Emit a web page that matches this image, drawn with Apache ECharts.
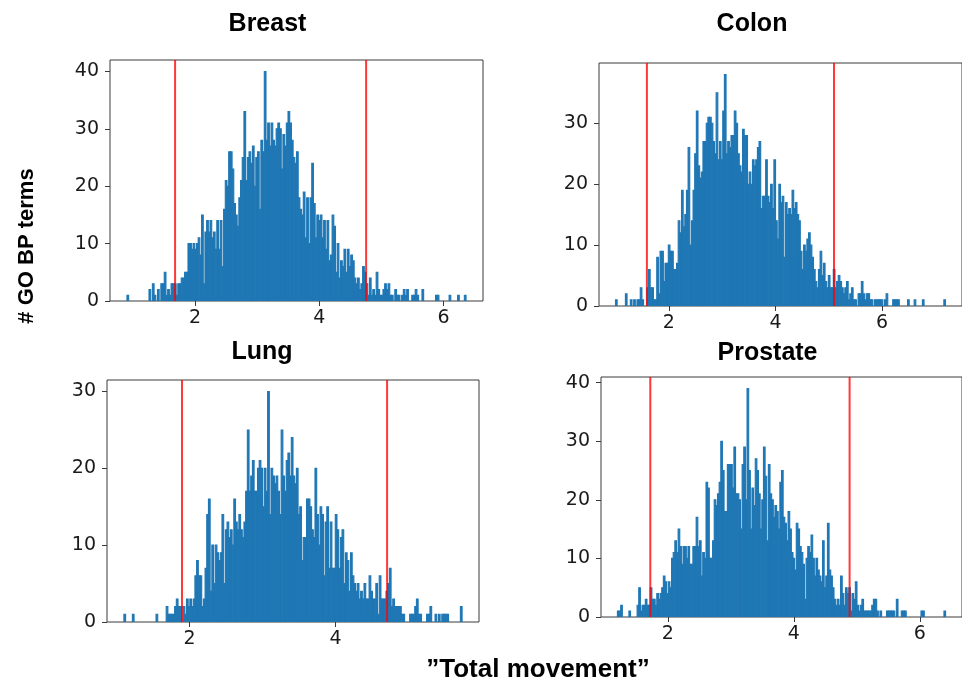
<!DOCTYPE html>
<html>
<head>
<meta charset="utf-8">
<title>Total movement of GO BP terms</title>
<script src="https://cdn.jsdelivr.net/npm/echarts@6/dist/echarts.min.js"></script>
<style>
  html, body { margin: 0; padding: 0; background: #ffffff; }
  #chart { width: 962px; height: 683px; }
</style>
</head>
<body>
<div id="chart"></div>
<script>
// Histogram counts, 200 equal-width bins per tissue
const breastCounts = [
  1,0,0,0,0,0,0,0,0,0,  0,0,0,2,0,3,1,0,2,0,  3,3,5,1,2,1,3,3,3,1,  3,3,4,4,5,5,10,10,9,10,
  9,10,11,8,15,3,12,14,12,14,  11,12,9,14,9,14,6,16,21,20,  26,26,23,17,15,13,18,21,25,33,
  21,25,26,24,27,20,25,26,16,28,  26,40,28,31,27,31,28,27,30,31,  30,23,29,27,31,33,31,28,25,24,
  26,18,16,15,19,11,18,10,18,24,  17,11,15,14,15,11,14,9,14,7,  8,15,13,5,10,4,7,6,9,5,
  9,6,8,7,4,3,4,2,3,6,  5,3,1,4,1,2,1,5,2,1,  1,2,3,2,3,1,1,0,2,1,  1,0,1,2,1,2,0,0,1,1,
  2,1,0,0,2,0,0,0,0,0,  0,0,1,1,0,0,0,0,0,0,  1,0,0,0,0,1,0,0,0,1
];
const colonCounts = [
  1,0,0,0,0,0,2,0,0,1,  0,1,0,1,1,3,1,0,0,3,  6,3,3,1,1,8,2,9,9,4,  7,7,10,9,9,6,6,7,14,12,
  19,13,15,19,26,10,14,19,25,32,  23,21,22,27,27,30,31,31,30,27,  25,35,24,27,24,32,38,25,27,26,
  28,28,32,30,25,23,22,29,28,28,  20,22,20,24,23,24,26,27,16,18,  18,24,18,17,20,16,24,14,11,20,
  17,18,8,17,15,16,15,19,16,17,  15,14,9,6,10,9,11,12,10,8,  6,4,3,6,9,5,7,4,3,5,
  3,3,6,3,4,5,4,3,2,3,  4,1,2,3,1,1,0,2,2,4,  2,1,2,2,1,1,0,1,1,1,  1,1,0,1,2,0,0,0,1,1,
  1,1,0,0,0,0,0,1,0,0,  0,1,0,0,0,0,1,0,0,0,  0,0,0,0,0,0,0,0,0,1
];
const lungCounts = [
  1,0,0,0,0,1,0,0,0,0,  0,0,0,0,0,0,0,0,0,1,  0,0,0,0,0,2,1,1,1,1,  2,3,2,2,0,2,1,3,2,3,
  2,3,6,8,6,6,2,3,7,14,  16,4,10,5,10,9,8,9,14,5,  12,13,11,12,10,16,13,12,14,12,
  11,13,17,25,17,19,21,17,17,20,  21,20,15,20,17,30,14,20,19,18,  19,17,14,25,19,17,21,22,19,24,
  19,18,20,14,15,8,11,11,16,16,  15,12,11,20,14,10,15,14,6,13,  15,7,13,7,7,14,12,7,11,12,
  5,9,8,4,9,6,5,4,5,3,  4,3,5,3,3,6,4,3,3,5,  1,6,3,3,3,4,5,7,2,3,  2,2,2,2,1,1,0,0,0,1,
  1,1,2,3,1,1,0,0,0,1,  1,2,0,0,1,0,1,0,1,1,  1,1,0,0,0,0,0,0,0,2
];
const prostateCounts = [
  1,1,2,0,0,0,0,1,0,0,  0,0,2,5,1,2,2,3,2,2,  5,3,3,2,4,3,4,5,7,6,  4,6,5,10,11,13,11,15,12,9,
  12,12,10,12,9,9,12,12,17,12,  13,7,11,10,23,22,10,10,13,20,  19,21,23,30,25,18,18,26,26,26,
  22,29,21,21,20,15,26,29,20,39,  25,15,22,19,27,25,21,15,20,29,  24,13,26,21,20,17,19,18,15,23,
  25,17,16,13,18,15,11,10,8,16,  15,12,11,9,3,10,12,11,14,10,  7,10,8,7,6,13,5,7,16,8,
  7,5,3,2,3,2,7,4,2,5,  4,5,1,4,3,6,2,1,2,3,  1,1,1,1,1,2,3,3,1,0,  1,0,0,0,1,1,1,1,1,0,
  3,0,0,1,1,1,0,0,0,0,  0,0,0,0,0,1,1,0,0,0,  0,0,0,0,0,0,0,0,0,1
];

// First and last bin edge of each histogram
const breastRange = [0.902, 6.362];
const colonRange = [1.0, 7.19];
const lungRange = [1.10, 5.736];
const prostateRange = [1.2, 6.41];

// Cut-off positions marked with red vertical lines
const breastCutoffs = [1.677, 4.753];
const colonCutoffs = [1.589, 5.099];
const lungCutoffs = [1.896, 4.708];
const prostateCutoffs = [1.722, 4.886];

// Tick labels
const xTicks = [2, 4, 6];
const yTicks = [0, 10, 20, 30, 40];

const panelTitles = ['Breast', 'Colon', 'Lung', 'Prostate'];

const panels = [
  { counts: breastCounts, range: breastRange, cutoffs: breastCutoffs,
    grid: { left: 110, top: 60, width: 373, height: 241 }, title: [267.5, 24] },
  { counts: colonCounts, range: colonRange, cutoffs: colonCutoffs,
    grid: { left: 599, top: 63, width: 370, height: 243 }, title: [752, 24] },
  { counts: lungCounts, range: lungRange, cutoffs: lungCutoffs,
    grid: { left: 107, top: 380, width: 372, height: 242 }, title: [262, 352] },
  { counts: prostateCounts, range: prostateRange, cutoffs: prostateCutoffs,
    grid: { left: 601, top: 377, width: 371, height: 240 }, title: [767.5, 353] }
];

const tickFont = '"DejaVu Sans", sans-serif';
const titleFont = '"Liberation Sans", Arial, sans-serif';
const spineColor = '#3a3a3a';
const barColor = '#1f77b4';

const grids = [], xAxes = [], yAxes = [], series = [], graphics = [];

panels.forEach((p, i) => {
  const [lo, hi] = p.range;
  const n = p.counts.length;
  const w = (hi - lo) / n;
  const span = hi - lo;
  const xMin = lo - 0.05 * span;
  const xMax = hi + 0.05 * span;
  const yMax = 1.05 * Math.max(...p.counts);

  grids.push(Object.assign({ show: true, borderColor: spineColor, borderWidth: 1,
    backgroundColor: 'transparent', containLabel: false }, p.grid));

  xAxes.push({
    type: 'value', gridIndex: i, min: xMin, max: xMax,
    axisLine: { show: false },
    splitLine: { show: false },
    axisTick: { show: true, length: 5, lineStyle: { color: spineColor, width: 1 },
      customValues: xTicks.filter(v => v >= xMin && v <= xMax) },
    axisLabel: { show: true, fontFamily: tickFont, fontSize: 19, color: '#1a1a1a', margin: 8,
      customValues: xTicks.filter(v => v >= xMin && v <= xMax) }
  });
  yAxes.push({
    type: 'value', gridIndex: i, min: 0, max: yMax,
    axisLine: { show: false },
    splitLine: { show: false },
    axisTick: { show: true, length: 5, lineStyle: { color: spineColor, width: 1 },
      customValues: yTicks.filter(v => v <= yMax) },
    axisLabel: { show: true, fontFamily: tickFont, fontSize: 19, color: '#1a1a1a', margin: 11,
      customValues: yTicks.filter(v => v <= yMax) }
  });

  const bins = [];
  p.counts.forEach((c, k) => {
    if (c > 0) bins.push([lo + k * w, lo + (k + 1) * w, c]);
  });

  series.push({
    type: 'custom', xAxisIndex: i, yAxisIndex: i, clip: true, silent: true,
    encode: { x: [0, 1], y: 2 },
    data: bins,
    renderItem: (params, api) => {
      const top = api.coord([api.value(0), api.value(2)]);
      const base = api.coord([api.value(1), 0]);
      return {
        type: 'rect',
        shape: { x: top[0], y: top[1], width: base[0] - top[0], height: base[1] - top[1] },
        style: { fill: barColor, stroke: barColor, lineWidth: 1.1 }
      };
    }
  });

  series.push({
    type: 'custom', xAxisIndex: i, yAxisIndex: i, clip: true, silent: true, z: 5,
    encode: { x: 0 },
    data: p.cutoffs.map(v => [v]),
    renderItem: (params, api) => {
      const cs = params.coordSys;
      const x = api.coord([api.value(0), 0])[0];
      return {
        type: 'line',
        shape: { x1: x, y1: cs.y, x2: x, y2: cs.y + cs.height },
        style: { stroke: 'rgba(255,0,0,0.78)', lineWidth: 2 }
      };
    }
  });

  graphics.push({
    type: 'text', x: p.title[0], y: p.title[1],
    style: { text: panelTitles[i], font: 'bold 25px ' + titleFont, fill: '#000',
      textAlign: 'center', textVerticalAlign: 'middle' }
  });
});

graphics.push({
  type: 'text', x: 27, y: 246, rotation: Math.PI / 2,
  style: { text: '# GO BP terms', font: 'bold 22px ' + titleFont, fill: '#000',
    textAlign: 'center', textVerticalAlign: 'middle' }
});
graphics.push({
  type: 'text', x: 538, y: 670,
  style: { text: '\u201DTotal movement\u201D', font: 'bold 26px ' + titleFont, fill: '#000',
    textAlign: 'center', textVerticalAlign: 'middle' }
});

const chart = echarts.init(document.getElementById('chart'), null, { renderer: 'canvas' });
chart.setOption({
  animation: false,
  backgroundColor: '#ffffff',
  grid: grids,
  xAxis: xAxes,
  yAxis: yAxes,
  series: series,
  graphic: graphics
});
</script>
</body>
</html>
